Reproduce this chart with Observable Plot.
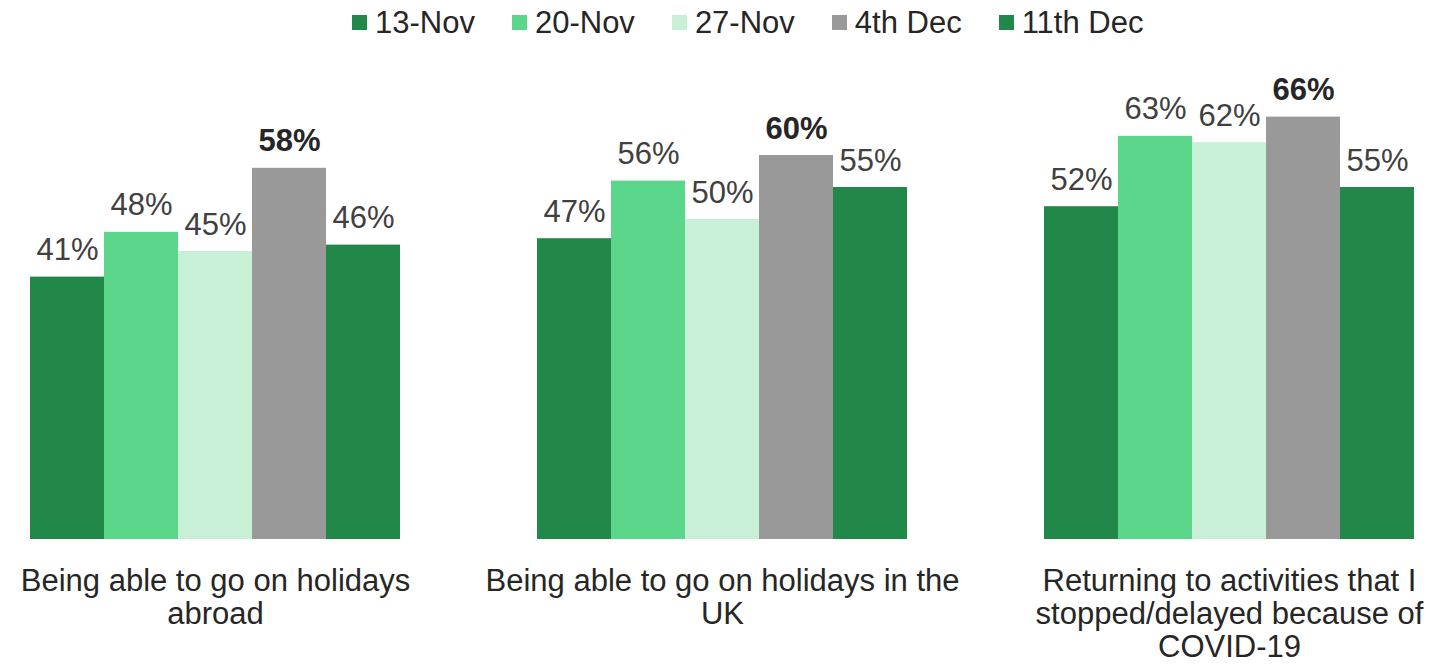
<!DOCTYPE html>
<html>
<head>
<meta charset="utf-8">
<script src="https://cdn.jsdelivr.net/npm/d3@7"></script>
<script src="https://cdn.jsdelivr.net/npm/@observablehq/plot@0.6"></script>
<style>
  body { margin: 0; background: #fff; font-family: Arial, "Liberation Sans", sans-serif; }
  #legend { height: 45px; display: flex; align-items: center; padding-left: 352px; box-sizing: border-box; }
  .item { display: flex; align-items: center; margin-right: 37px; font-size: 31px; color: #262626; }
  .sw { width: 15px; height: 15px; margin-right: 8px; }
</style>
</head>
<body>
<div id="legend"></div>
<div id="chart"></div>
<script>
const categories = [
  "Being able to go on holidays abroad",
  "Being able to go on holidays in the UK",
  "Returning to activities that I stopped/delayed because of COVID-19"
];
const categoryLabels = [
  "Being able to go on holidays\nabroad",
  "Being able to go on holidays in the\nUK",
  "Returning to activities that I\nstopped/delayed because of\nCOVID-19"
];
const dates = ["13-Nov", "20-Nov", "27-Nov", "4th Dec", "11th Dec"];
const colors = ["#22884A", "#5CD68A", "#C7F0D7", "#999999", "#22884A"];
const highlightDate = "4th Dec";
const values = [
  [41, 48, 45, 58, 46],
  [47, 56, 50, 60, 55],
  [52, 63, 62, 66, 55]
];

const data = [];
categories.forEach((c, i) => dates.forEach((d, j) => data.push({category: c, date: d, value: values[i][j]})));

// legend
const legend = document.getElementById("legend");
dates.forEach((d, j) => {
  const it = document.createElement("div");
  it.className = "item";
  const sw = document.createElement("div");
  sw.className = "sw";
  sw.style.background = colors[j];
  it.appendChild(sw);
  const t = document.createElement("span");
  t.textContent = d;
  it.appendChild(t);
  legend.appendChild(it);
});

const labelOf = new Map(categories.map((c, i) => [c, categoryLabels[i]]));

const chart = Plot.plot({
  width: 1436,
  height: 619,
  marginTop: 46,
  marginBottom: 125,
  marginLeft: 28,
  marginRight: 21,
  style: {fontFamily: "Arial, 'Liberation Sans', sans-serif", background: "#fff"},
  fx: {domain: categories, axis: null, paddingInner: 0.267, paddingOuter: 0},
  x: {domain: dates, axis: null, padding: 0},
  y: {domain: [0, 70], axis: null},
  color: {domain: dates, range: colors},
  marks: [
    Plot.barY(data, {fx: "category", x: "date", y: "value", fill: "date"}),
    Plot.text(data.filter(d => d.date !== highlightDate), {
      fx: "category", x: "date", y: "value", text: d => d.value + "%",
      lineAnchor: "bottom", dy: -17, fontSize: 31, fill: "#404040"
    }),
    Plot.text(data.filter(d => d.date === highlightDate), {
      fx: "category", x: "date", y: "value", text: d => d.value + "%",
      lineAnchor: "bottom", dy: -17, fontSize: 31, fontWeight: "bold", fill: "#262626"
    }),
    Plot.text(categories, {
      fx: d => d, text: d => labelOf.get(d), frameAnchor: "bottom",
      lineAnchor: "top", dy: 28, fontSize: 31, lineHeight: 1.065, fill: "#262626"
    })
  ]
});
document.getElementById("chart").appendChild(chart);
</script>
</body>
</html>
